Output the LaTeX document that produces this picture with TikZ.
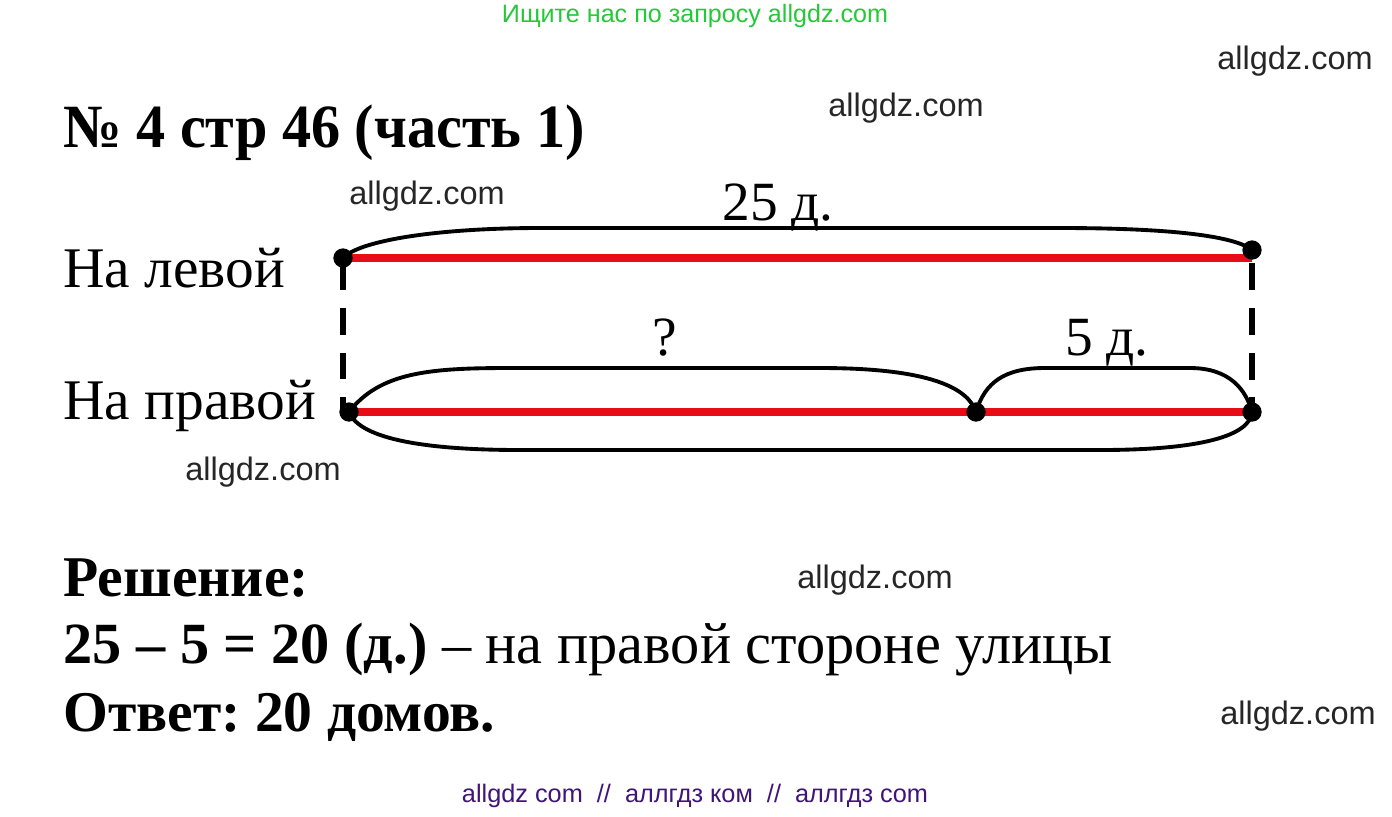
\documentclass[tikz,border=0pt]{standalone}
\usepackage{fontspec}
\setmainfont{Liberation Serif}
\newfontfamily\wmfont{Liberation Sans}
\usepackage{xcolor}
\usepackage{graphicx}
\usetikzlibrary{positioning}
\definecolor{wmgreen}{RGB}{36,200,56}
\definecolor{wmpurple}{RGB}{64,20,120}
\definecolor{segred}{RGB}{232,12,22}
\frenchspacing
\tikzset{
  dot/.style={circle, fill=black, inner sep=0pt, minimum size=11pt},
  seg/.style={draw=segred, line width=4pt},
  brace/.style={draw=black, line width=2.2pt},
  dashline/.style={draw=black, line width=3.3pt, dash pattern=on 15.3pt off 10.2pt},
  watermark/.style={font=\wmfont\fontsize{18.5}{20}\selectfont, text=black!85},
  rowlabel/.style={anchor=base west, inner sep=0pt, font=\fontsize{32.7}{36}\selectfont},
  seglabel/.style={anchor=base, inner sep=0pt, font=\fontsize{31.5}{34}\selectfont},
  answer/.style={anchor=base west, inner sep=0pt, font=\fontsize{33.2}{36}\selectfont}
}
\begin{document}
\begin{tikzpicture}[x=0.02cm, y=-0.02cm]
\useasboundingbox (0,0) rectangle (1392,816);
%% watermarks
\node[font=\wmfont\fontsize{14.3}{16}\selectfont, text=wmgreen] (search) at (695,16) {Ищите нас по запросу allgdz.com};
\node[watermark] (wma) at (1295,61) {allgdz.com};
\node[watermark] (wmb) at (906,108) {allgdz.com};
\node[watermark] (wmc) at (427,196) {allgdz.com};
\node[watermark] (wmd) at (263,472) {allgdz.com};
\node[watermark] (wme) at (875,580) {allgdz.com};
\node[watermark] (wmf) at (1298,716) {allgdz.com};
\node[font=\wmfont\fontsize{14.4}{16}\selectfont, text=wmpurple] (footer) at (695,796) {allgdz com \ // \ аллгдз ком \ // \ аллгдз com};
%% title
\node[anchor=base west, inner sep=0pt, font=\bfseries\fontsize{35}{38}\selectfont] (title) at (63,147) {\scalebox{0.947}[1]{№ 4 стр 46 (часть 1)}};
%% the two rows
\node[rowlabel] (left) at (63,287) {На левой};
\node[rowlabel] (right) at (63,419) {На правой};
\coordinate (l1) at (343,258);
\coordinate (l2) at (1252,250);
\coordinate (r1) at (349,412);
\coordinate (r2) at (976,412);
\coordinate (r3) at (1252,412);
%% braces over and under the segments
\draw[brace] (l1) .. controls (360,240) and (440,228) .. (540,228) -- (1060,228) .. controls (1170,228) and (1235,236) .. (l2);
\draw[brace] (r1) .. controls (380,372) and (430,368) .. (510,368) -- (820,368) .. controls (930,368) and (968,388) .. (r2);
\draw[brace] (r2) .. controls (985,382) and (1005,368) .. (1045,368) -- (1190,368) .. controls (1230,368) and (1246,390) .. (r3);
\draw[brace] (r1) .. controls (360,440) and (430,450) .. (520,450) -- (1100,450) .. controls (1200,450) and (1250,436) .. (r3);
%% dashed links between the rows
\draw[dashline] ([yshift=-2.8pt]l1) -- (l1 |- r1);
\draw[dashline] ([yshift=-7.4pt]l2) -- (r3);
%% red segments and their end points
\draw[seg] (l1 -| l2) -- (l1);
\draw[seg] (r1) -- (r3);
\foreach \p in {l1,l2,r1,r2,r3} \node[dot] at (\p) {};
\node[seglabel] (total) at (778,220) {25 д.};
\node[seglabel] (unknown) at (665,355) {?};
\node[seglabel] (diff) at (1107,355) {5 д.};
%% solution
\node[answer, font=\bfseries\fontsize{32.8}{36}\selectfont] (sol) at (63,596) {Решение:};
\node[answer] (calc) at (63,663) {\textbf{25 – 5 = 20 (д.)} – на правой стороне улицы};
\node[answer, font=\bfseries\fontsize{32.8}{36}\selectfont] (result) at (63,731) {Ответ: 20 домов.};
\end{tikzpicture}
\end{document}
